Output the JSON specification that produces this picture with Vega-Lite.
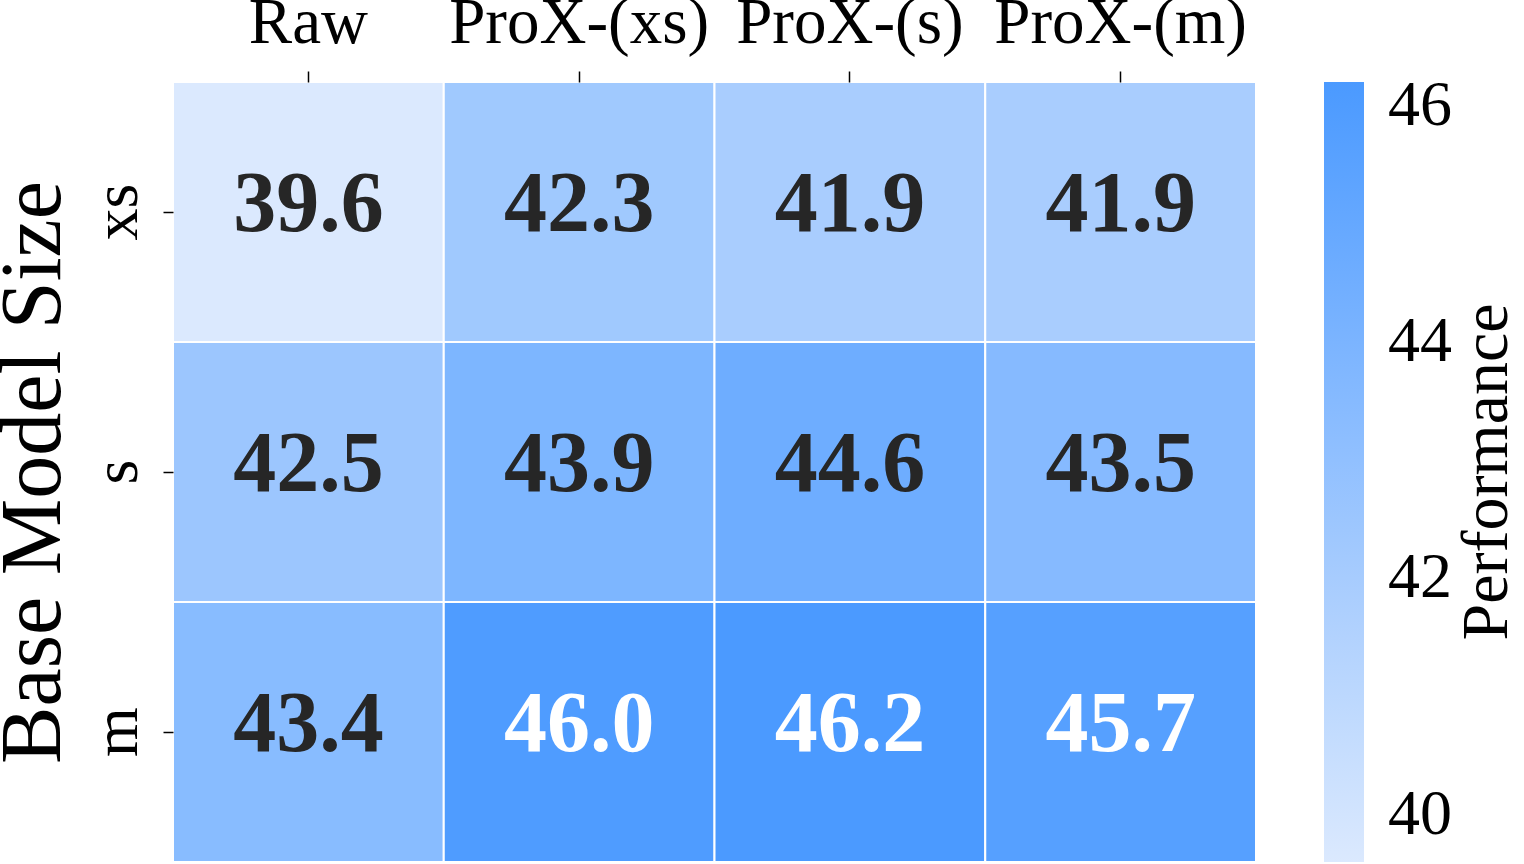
{
  "$schema": "https://vega.github.io/schema/vega-lite/v6.json",
  "width": 1083,
  "height": 780,
  "autosize": {"type": "none"},
  "padding": {"left": 173, "top": 82, "right": 268, "bottom": 2},
  "background": "white",
  "config": {"font": "Liberation Serif", "view": {"stroke": null}},
  "data": {"values": [
    {"method": "Raw", "size": "xs", "value": 39.6},
    {"method": "ProX-(xs)", "size": "xs", "value": 42.3},
    {"method": "ProX-(s)", "size": "xs", "value": 41.9},
    {"method": "ProX-(m)", "size": "xs", "value": 41.9},
    {"method": "Raw", "size": "s", "value": 42.5},
    {"method": "ProX-(xs)", "size": "s", "value": 43.9},
    {"method": "ProX-(s)", "size": "s", "value": 44.6},
    {"method": "ProX-(m)", "size": "s", "value": 43.5},
    {"method": "Raw", "size": "m", "value": 43.4},
    {"method": "ProX-(xs)", "size": "m", "value": 46.0},
    {"method": "ProX-(s)", "size": "m", "value": 46.2},
    {"method": "ProX-(m)", "size": "m", "value": 45.7}
  ]},
  "encoding": {
    "x": {"field": "method", "type": "nominal", "sort": ["Raw", "ProX-(xs)", "ProX-(s)", "ProX-(m)"],
      "scale": {"paddingInner": 0, "paddingOuter": 0},
      "axis": {"orient": "top", "title": null, "labelAngle": 0, "labelFontSize": 65, "labelColor": "black",
        "labelLimit": 0, "tickSize": 11, "tickColor": "black", "tickWidth": 1.5, "labelPadding": 15, "domain": false}},
    "y": {"field": "size", "type": "nominal", "sort": ["xs", "s", "m"],
      "scale": {"paddingInner": 0, "paddingOuter": 0},
      "axis": {"title": "Base Model Size", "titleFontSize": 86, "titleFontWeight": "normal", "titleColor": "black",
        "titlePadding": 8, "labelAngle": 270, "labelFontSize": 64, "labelColor": "black",
        "tickSize": 10, "tickColor": "black", "tickWidth": 1.5, "labelPadding": 14, "domain": false}}
  },
  "layer": [
    {
      "mark": {"type": "rect", "stroke": "white", "strokeWidth": 2},
      "encoding": {
        "color": {"field": "value", "type": "quantitative",
          "scale": {"domain": [39.6, 46.2], "range": ["#dbe9fe", "#4b9aff"], "interpolate": "rgb"},
          "legend": {"orient": "none", "legendX": 1151, "legendY": 0, "direction": "vertical",
            "gradientLength": 780, "gradientThickness": 40, "gradientStrokeWidth": 0,
            "values": [40, 42, 44, 46], "format": "d", "labelFontSize": 64, "labelColor": "black", "labelOffset": 24,
            "labelLimit": 0,
            "title": "Performance", "titleOrient": "right", "titleFontSize": 66, "titleFontWeight": "normal",
            "titleColor": "black", "titleAlign": "center", "titleBaseline": "top", "titleAnchor": "middle",
            "titlePadding": 3, "titleLimit": 0,
            "encoding": {"title": {"angle": {"value": 270}}}}
        }
      }
    },
    {
      "mark": {"type": "text", "fontSize": 86, "fontWeight": "bold", "baseline": "middle", "align": "center", "dy": -7},
      "encoding": {
        "text": {"field": "value", "type": "quantitative", "format": ".1f"},
        "color": {"condition": {"test": "datum.value > 45", "value": "white"}, "value": "#262626"}
      }
    }
  ]
}
